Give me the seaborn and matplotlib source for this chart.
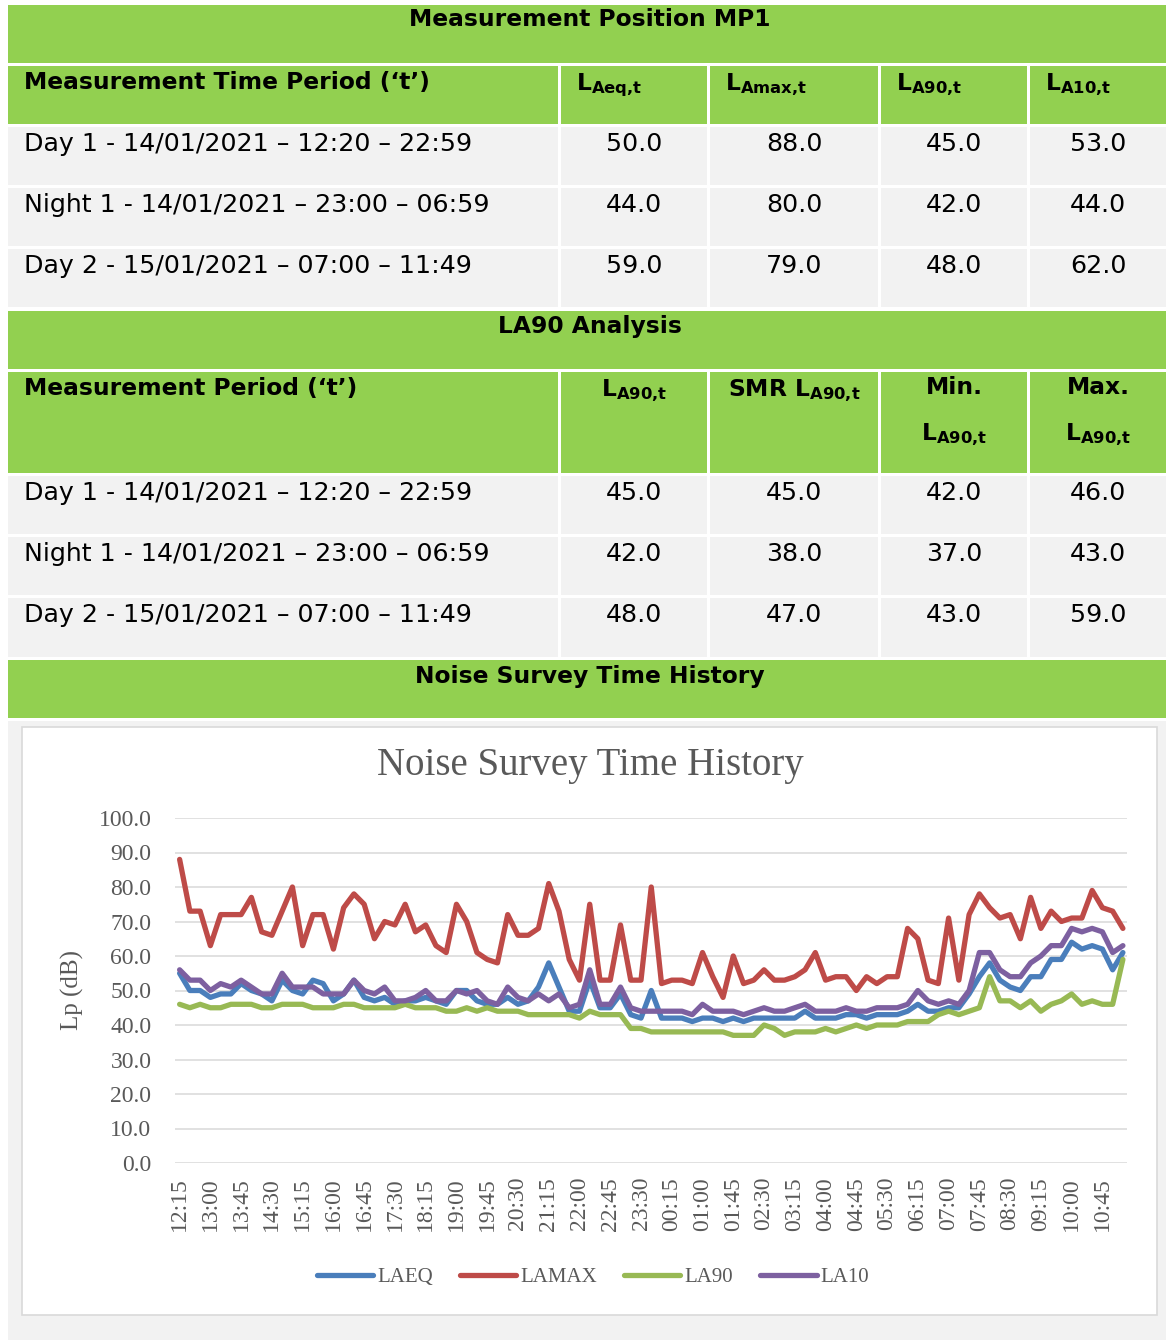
import numpy as np
import pandas as pd
import matplotlib
matplotlib.use("Agg")
import matplotlib.pyplot as plt
from matplotlib.patches import Rectangle
import seaborn as sns

# ---- table values ----
PERIODS = ["Day 1 - 14/01/2021 \u2013 12:20 \u2013 22:59",
           "Night 1 - 14/01/2021 \u2013 23:00 \u2013 06:59",
           "Day 2 - 15/01/2021 \u2013 07:00 \u2013 11:49"]
LAEQ_T = [50.0, 44.0, 59.0]
LAMAX_T = [88.0, 80.0, 79.0]
LA90_T = [45.0, 42.0, 48.0]
LA10_T = [53.0, 44.0, 62.0]

LA90_PERIOD = [45.0, 42.0, 48.0]
SMR_LA90 = [45.0, 38.0, 47.0]
MIN_LA90 = [42.0, 37.0, 43.0]
MAX_LA90 = [46.0, 43.0, 59.0]

# ---- time history (15 min values, 12:15 -> 11:15) ----
LAEQ = [55, 50, 50, 48, 49, 49, 52, 50, 49, 47, 53, 50, 49, 53, 52, 47, 49, 53, 48, 47, 48, 46, 47,
        47, 48, 47, 46, 50, 50, 47, 46, 46, 48, 46, 47, 51, 58, 51, 44, 44, 53, 45, 45, 49, 43, 42,
        50, 42, 42, 42, 41, 42, 42, 41, 42, 41, 42, 42, 42, 42, 42, 44, 42, 42, 42, 43, 43, 42, 43,
        43, 43, 44, 46, 44, 44, 45, 45, 49, 54, 58, 53, 51, 50, 54, 54, 59, 59, 64, 62, 63, 62, 56, 61]
LAMAX = [88, 73, 73, 63, 72, 72, 72, 77, 67, 66, 73, 80, 63, 72, 72, 62, 74, 78, 75, 65, 70, 69, 75,
         67, 69, 63, 61, 75, 70, 61, 59, 58, 72, 66, 66, 68, 81, 73, 59, 53, 75, 53, 53, 69, 53, 53,
         80, 52, 53, 53, 52, 61, 54, 48, 60, 52, 53, 56, 53, 53, 54, 56, 61, 53, 54, 54, 50, 54, 52,
         54, 54, 68, 65, 53, 52, 71, 53, 72, 78, 74, 71, 72, 65, 77, 68, 73, 70, 71, 71, 79, 74, 73, 68]
LA90 = [46, 45, 46, 45, 45, 46, 46, 46, 45, 45, 46, 46, 46, 45, 45, 45, 46, 46, 45, 45, 45, 45, 46,
        45, 45, 45, 44, 44, 45, 44, 45, 44, 44, 44, 43, 43, 43, 43, 43, 42, 44, 43, 43, 43, 39, 39,
        38, 38, 38, 38, 38, 38, 38, 38, 37, 37, 37, 40, 39, 37, 38, 38, 38, 39, 38, 39, 40, 39, 40,
        40, 40, 41, 41, 41, 43, 44, 43, 44, 45, 54, 47, 47, 45, 47, 44, 46, 47, 49, 46, 47, 46, 46, 59]
LA10 = [56, 53, 53, 50, 52, 51, 53, 51, 49, 49, 55, 51, 51, 51, 49, 49, 49, 53, 50, 49, 51, 47, 47,
        48, 50, 47, 47, 50, 49, 50, 47, 46, 51, 48, 47, 49, 47, 49, 45, 46, 56, 46, 46, 51, 45, 44,
        44, 44, 44, 44, 43, 46, 44, 44, 44, 43, 44, 45, 44, 44, 45, 46, 44, 44, 44, 45, 44, 44, 45,
        45, 45, 46, 50, 47, 46, 47, 46, 50, 61, 61, 56, 54, 54, 58, 60, 63, 63, 68, 67, 68, 67, 61, 63]

SERIES = ["LAEQ", "LAMAX", "LA90", "LA10"]
COLORS = ["#4A7EBB", "#BE4B48", "#98B954", "#7D60A0"]
TIMES = pd.date_range("2021-01-14 12:15", periods=len(LAEQ), freq="15min").strftime("%H:%M").tolist()

W, H = 1166, 1340
GREEN = "#92D050"
GREY = "#F2F2F2"

sns.set_style("white")
plt.rcParams["font.family"] = "DejaVu Sans"
plt.rcParams["mathtext.fontset"] = "dejavusans"
plt.rcParams["text.color"] = "black"

fig = plt.figure(figsize=(W / 100, H / 100), dpi=100)
bg = fig.add_axes([0, 0, 1, 1])
bg.set_xlim(0, W)
bg.set_ylim(H, 0)
bg.axis("off")

COL_X0 = [8, 561, 710, 881, 1030]
COL_X1 = [558, 707, 878, 1027, 1166]
TS = 18.2   # body text
TB = 16.8   # bold headers


def box(x0, x1, y0, y1, color):
    bg.add_patch(Rectangle((x0, y0), x1 - x0, y1 - y0, facecolor=color, edgecolor="none"))


def row(y0, y1, color):
    for a, b in zip(COL_X0, COL_X1):
        box(a, b, y0, y1, color)


def lsub(sub, prefix=""):
    sub = sub.replace(",", "{,}")
    return prefix + r"$\mathbf{L}_{\mathbf{" + sub + "}}$"


# ---- table 1 ----
box(8, 1166, 5, 63, GREEN)
bg.text(590, 20, "Measurement Position MP1", ha="center", va="center", fontsize=TB, fontweight="bold")
row(66, 124, GREEN)
bg.text(24, 82, "Measurement Time Period (\u2018t\u2019)", ha="left", va="center", fontsize=TB, fontweight="bold")
for x0, sub in zip(COL_X0[1:], ["Aeq,t", "Amax,t", "A90,t", "A10,t"]):
    bg.text(x0 + 15, 85, lsub(sub), ha="left", va="center", fontsize=TB)

rows1 = [(127, 185), (188, 246), (249, 307)]
for k, (y0, y1) in enumerate(rows1):
    row(y0, y1, GREY)
    bg.text(24, y0 + 17, PERIODS[k], ha="left", va="center", fontsize=TS)
    for j, vals in enumerate([LAEQ_T, LAMAX_T, LA90_T, LA10_T]):
        cx = (COL_X0[j + 1] + COL_X1[j + 1]) / 2
        bg.text(cx, y0 + 17, f"{vals[k]:.1f}", ha="center", va="center", fontsize=TS)

# ---- table 2 ----
box(8, 1166, 311, 369, GREEN)
bg.text(590, 326, "LA90 Analysis", ha="center", va="center", fontsize=TB, fontweight="bold")
row(372, 473, GREEN)
bg.text(24, 388, "Measurement Period (\u2018t\u2019)", ha="left", va="center", fontsize=TB, fontweight="bold")
centers = [(a + b) / 2 for a, b in zip(COL_X0, COL_X1)]
bg.text(centers[1], 391, lsub("A90,t"), ha="center", va="center", fontsize=TB)
bg.text(centers[2], 391, lsub("A90,t", "SMR "), ha="center", va="center", fontsize=TB, fontweight="bold")
bg.text(centers[3], 388, "Min.", ha="center", va="center", fontsize=TB, fontweight="bold")
bg.text(centers[3], 435, lsub("A90,t"), ha="center", va="center", fontsize=TB)
bg.text(centers[4], 388, "Max.", ha="center", va="center", fontsize=TB, fontweight="bold")
bg.text(centers[4], 435, lsub("A90,t"), ha="center", va="center", fontsize=TB)

rows2 = [(476, 534), (537, 595), (598, 657)]
for k, (y0, y1) in enumerate(rows2):
    row(y0, y1, GREY)
    bg.text(24, y0 + 17, PERIODS[k], ha="left", va="center", fontsize=TS)
    for j, vals in enumerate([LA90_PERIOD, SMR_LA90, MIN_LA90, MAX_LA90]):
        bg.text(centers[j + 1], y0 + 17, f"{vals[k]:.1f}", ha="center", va="center", fontsize=TS)

# ---- chart panel ----
box(8, 1166, 660, 718, GREEN)
bg.text(590, 676, "Noise Survey Time History", ha="center", va="center", fontsize=TB, fontweight="bold")
box(8, 1166, 721, H, GREY)
bg.add_patch(Rectangle((22, 727), 1135, 588, facecolor="white", edgecolor="#D9D9D9", linewidth=1.2))

SERIF = "Liberation Serif"
TXT = "#595959"
fig.text(590 / W, 1 - 766 / H, "Noise Survey Time History", ha="center", va="center",
         fontsize=28, family=SERIF, color=TXT)

ax = fig.add_axes([175 / W, 1 - 1163 / H, (1127 - 175) / W, (1163 - 818) / H])
df = pd.DataFrame({
    "pos": np.tile(np.arange(len(TIMES)), len(SERIES)),
    "Lp": np.concatenate([LAEQ, LAMAX, LA90, LA10]),
    "series": np.repeat(SERIES, len(TIMES)),
})
sns.lineplot(data=df, x="pos", y="Lp", hue="series", hue_order=SERIES, palette=COLORS,
             linewidth=3.8, legend=False, errorbar=None, ax=ax)
for ln in ax.lines:
    ln.set_solid_joinstyle("round")
    ln.set_solid_capstyle("round")

ax.set_ylim(0, 100)
ax.set_xlim(-0.45, len(TIMES) - 1 + 0.4)
ax.set_yticks(np.arange(0, 101, 10))
ax.set_yticklabels([f"{v:.1f}" for v in np.arange(0, 101, 10)])
ax.set_xticks(np.arange(0, len(TIMES), 3))
ax.set_xticklabels(TIMES[::3], rotation=90)
ax.grid(axis="y", color="#D9D9D9", linewidth=1.1)
ax.set_axisbelow(True)
sns.despine(ax=ax, left=True, bottom=True)
ax.tick_params(axis="y", length=0, pad=17, labelsize=17, labelcolor=TXT)
ax.tick_params(axis="x", length=0, pad=10, labelsize=17, labelcolor=TXT)
for lab in ax.get_xticklabels() + ax.get_yticklabels():
    lab.set_family(SERIF)
ax.set_xlabel("")
ax.set_ylabel("")
fig.text(72 / W, 1 - 990 / H, "Lp (dB)", rotation=90, ha="center", va="center",
         fontsize=18, family=SERIF, color=TXT)

leg = fig.legend(ax.lines[:4], SERIES, loc="center", bbox_to_anchor=(593 / W, 1 - 1277 / H),
                 ncol=4, frameon=False, handlelength=2.7, handletextpad=0.2, columnspacing=1.3,
                 prop={"family": SERIF, "size": 15})
for t in leg.get_texts():
    t.set_color(TXT)

fig.savefig("out.png", dpi=100)
